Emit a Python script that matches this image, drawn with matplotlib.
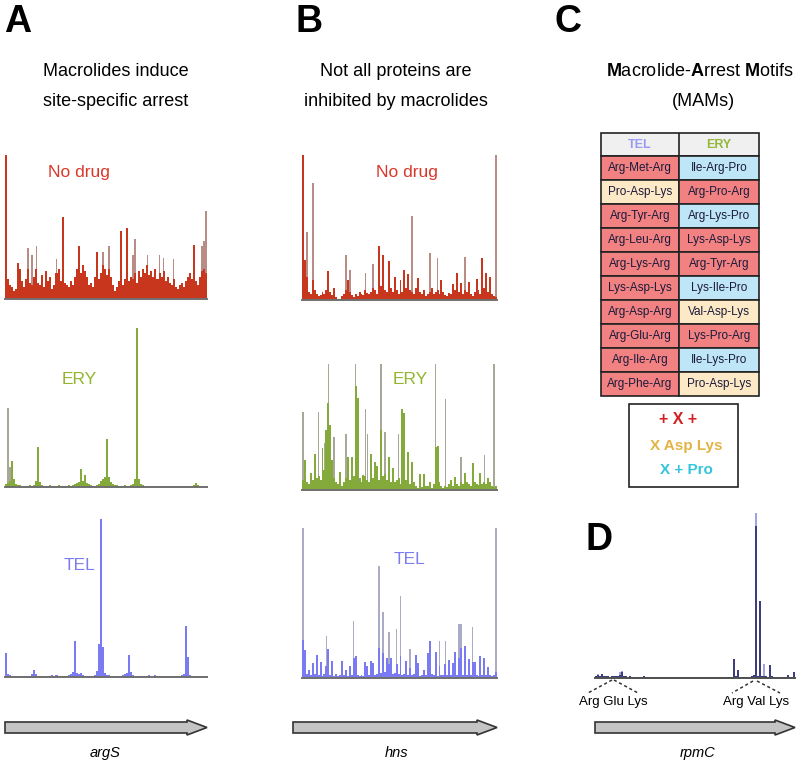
import numpy as np
import matplotlib
matplotlib.use("Agg")
import matplotlib.pyplot as plt
from matplotlib.patches import Rectangle, Polygon

plt.rcParams['font.family'] = ['Liberation Sans', 'DejaVu Sans']
plt.rcParams['mathtext.fontset'] = 'custom'
plt.rcParams['mathtext.rm'] = 'Liberation Sans'
plt.rcParams['mathtext.bf'] = 'Liberation Sans:bold'

W, H = 800, 762

# ribosome footprint density, 100 bins per gene (arbitrary read units)
a_nodrug = [144,20,14,12,8,10,36,30,18,12,
            20,30,16,14,22,30,16,14,24,12,
            28,18,22,10,14,26,30,18,82,16,
            14,12,18,14,22,30,53,26,34,28,
            22,14,16,12,22,47,20,26,34,30,
            24,30,22,14,8,12,18,68,14,20,
            71,18,22,20,26,16,28,22,30,26,
            34,24,28,22,30,20,26,22,28,18,
            22,16,14,20,12,10,14,16,12,18,
            22,26,20,54,18,14,22,28,30,26]
a_nodrug_rep_pos = [11,13,15,25,48,51,63,64,70,76,78,83,97,98,99]
a_nodrug_rep = [51,44,53,40,47,53,44,60,44,44,41,40,53,58,88]

a_ery = [3,4,6,26,8,3,2,2,1,1,
         1,1,2,1,2,6,40,5,2,1,
         1,1,2,1,1,1,2,1,1,1,
         1,2,1,2,3,4,5,18,6,12,
         4,3,2,1,1,2,3,6,8,10,
         48,10,5,3,2,2,1,1,1,2,
         1,1,2,3,8,159,8,3,2,1,
         1,1,1,1,1,1,1,1,1,1,
         1,1,1,1,1,1,1,1,1,1,
         1,1,1,2,4,2,1,1,1,1]
a_ery_rep_pos = [1, 2]
a_ery_rep = [79, 20]

a_tel = [24,3,2,1,1,1,1,1,1,1,
         1,1,1,3,7,3,1,1,1,1,
         1,1,1,2,1,2,1,1,1,1,
         1,2,3,5,36,4,3,4,2,1,
         1,1,1,1,2,6,33,158,30,4,
         2,2,1,1,1,1,1,1,2,3,
         4,22,5,2,1,1,1,1,1,1,
         1,2,1,1,2,1,1,1,1,1,
         1,1,1,1,1,1,1,2,3,51,
         20,2,1,1,1,1,1,1,1,1]

b_nodrug = [145,40,23,8,6,20,10,6,4,5,
            8,6,10,29,8,5,12,3,0,1,
            4,6,10,20,8,5,3,6,4,8,
            6,5,10,7,6,8,12,10,6,54,
            14,45,10,8,39,12,8,23,10,6,
            20,8,30,12,26,10,8,6,12,22,
            8,6,10,4,6,8,12,6,8,10,
            6,20,8,5,4,7,6,16,10,27,
            8,17,6,10,8,18,6,4,8,21,
            10,6,42,12,27,8,23,6,4,3]
b_nodrug_rep_pos = [2,5,22,24,32,36,56,65,69,83,99]
b_nodrug_rep = [68,117,45,30,27,36,84,47,42,43,145]

b_ery = [10,30,8,6,17,10,36,12,14,10,
         42,20,60,87,65,30,12,8,6,18,
         4,8,12,33,10,33,14,104,92,12,
         8,15,14,10,8,36,12,28,24,10,
         60,14,16,10,33,8,22,8,10,12,
         6,81,77,10,38,6,28,8,4,2,
         16,3,16,4,4,8,2,6,43,44,
         8,4,2,4,3,6,10,4,13,6,
         4,8,6,17,8,6,4,27,8,6,
         5,17,6,8,6,12,8,4,3,4]
b_ery_rep_pos = [0,8,11,13,16,22,27,32,33,40,42,49,68,73,81,93,98]
b_ery_rep = [78,78,47,126,53,56,126,81,56,126,58,56,126,91,33,35,126]

b_tel = [38,28,4,8,3,15,4,23,3,16,
         2,4,12,29,3,17,2,4,2,3,
         17,3,8,2,12,3,20,22,3,2,
         3,2,16,12,3,17,15,3,4,30,
         5,25,6,20,14,20,4,5,14,4,
         22,3,4,17,3,10,3,4,23,15,
         2,3,8,3,25,37,4,3,26,2,
         12,3,3,14,3,18,3,15,26,3,
         20,30,3,32,3,19,3,16,16,3,
         2,22,3,20,3,11,3,2,3,6]
b_tel_rep_pos = [0,12,26,39,41,44,48,50,55,64,65,70,73,80,81,87,99]
b_tel_rep = [150,42,57,112,66,46,49,82,29,25,37,37,37,54,54,51,150]

d_tel = [2,3,2,4,2,2,2,1,2,2,
         2,2,3,6,2,2,1,2,1,1,
         1,1,1,1,2,1,1,1,1,1,
         1,1,1,1,1,1,1,1,1,1,
         1,1,1,1,1,1,1,1,1,1,
         1,1,1,1,1,1,1,1,1,1,
         1,1,1,1,1,1,1,1,1,19,
         2,8,1,1,1,1,1,1,2,3,
         152,2,77,2,2,2,1,13,2,1,
         1,1,1,1,1,1,3,1,1,6]
d_rep_pos = [1,3,12,13,80,84,99]
d_rep = [4,3,6,7,165,14,6]

tel_motifs = ["Arg-Met-Arg", "Pro-Asp-Lys", "Arg-Tyr-Arg", "Arg-Leu-Arg", "Arg-Lys-Arg",
              "Lys-Asp-Lys", "Arg-Asp-Arg", "Arg-Glu-Arg", "Arg-Ile-Arg", "Arg-Phe-Arg"]
tel_class = ["r", "y", "r", "r", "r", "r", "r", "r", "r", "r"]
ery_motifs = ["Ile-Arg-Pro", "Arg-Pro-Arg", "Arg-Lys-Pro", "Lys-Asp-Lys", "Arg-Tyr-Arg",
              "Lys-Ile-Pro", "Val-Asp-Lys", "Lys-Pro-Arg", "Ile-Lys-Pro", "Pro-Asp-Lys"]
ery_class = ["b", "r", "b", "r", "r", "b", "y", "r", "b", "y"]
cell_col = {"r": "#f28282", "y": "#fde9c6", "b": "#bfe6f6"}

RED, RED_REP = "#c8361e", "#b98c86"
GRN, GRN_REP = "#84aa3c", "#a9a797"
BLU, BLU_REP = "#7a7af2", "#ababc6"

fig = plt.figure(figsize=(8, 7.62), dpi=100)


def px_axes(l, t, r, b):
    return fig.add_axes([l / W, 1 - b / H, (r - l) / W, (b - t) / H])


def track(box, vals, color, rep_pos=None, rep=None, rep_color=None, base="#707070"):
    ax = px_axes(*box)
    n = len(vals)
    if rep_pos is not None:
        ax.bar(rep_pos, rep, width=0.8, color=rep_color, linewidth=0, zorder=1)
    ax.bar(np.arange(n), vals, width=1.0, color=color, linewidth=0, zorder=2)
    ax.axhline(0, color=base, lw=1.4, zorder=3, clip_on=False)
    ax.set_xlim(-0.5, n - 0.5)
    ax.set_ylim(0, box[3] - box[1])
    ax.axis('off')
    return ax


track((5, 150, 207, 299), a_nodrug, RED, a_nodrug_rep_pos, a_nodrug_rep, RED_REP)
track((5, 325, 207, 487), a_ery, GRN, a_ery_rep_pos, a_ery_rep, GRN_REP)
track((5, 515, 207, 677), a_tel, BLU)
track((302, 150, 497, 300), b_nodrug, RED, b_nodrug_rep_pos, b_nodrug_rep, RED_REP)
track((302, 360, 497, 490), b_ery, GRN, b_ery_rep_pos, b_ery_rep, GRN_REP)
track((302, 525, 497, 678), b_tel, BLU, b_tel_rep_pos, b_tel_rep, BLU_REP)
track((595, 510, 795, 678), d_tel, "#3d3d80", d_rep_pos, d_rep, "#a2a2e6", base="#505050")

# overlay for text, table, arrows
ov = fig.add_axes([0, 0, 1, 1], zorder=-1)
ov.set_xlim(0, W)
ov.set_ylim(H, 0)
ov.axis('off')

for s, x, y in [("A", 4, 22), ("B", 296, 22), ("C", 555, 22), ("D", 585, 540)]:
    ov.text(x, y, s, fontsize=27, fontweight='bold', ha='left', va='center')

ov.text(116, 72, "Macrolides induce", fontsize=13, ha='center', va='center')
ov.text(116, 101, "site-specific arrest", fontsize=13, ha='center', va='center')
ov.text(396, 72, "Not all proteins are", fontsize=13, ha='center', va='center')
ov.text(396, 101, "inhibited by macrolides", fontsize=13, ha='center', va='center')
ov.text(700, 72, r"$\mathbf{M}$acrolide-$\mathbf{A}$rrest $\mathbf{M}$otifs", fontsize=13,
        ha='center', va='center')
ov.text(703, 101, "(MAMs)", fontsize=13, ha='center', va='center')

for x, y, s, c in [(79, 172, "No drug", "#d8382a"), (79, 380, "ERY", "#94b52e"),
                   (80, 565, "TEL", "#7c7cf0"), (407, 172, "No drug", "#d8382a"),
                   (410, 379, "ERY", "#94b52e"), (410, 560, "TEL", "#7c7cf0")]:
    ov.text(x, y, s, fontsize=12.5, color=c, ha='center', va='center')

# MAM table
tx0, tx1, tx2 = 601, 679, 759
ty0, rh = 132.5, 24
ov.add_patch(Rectangle((tx0, ty0), tx2 - tx0, 23.5, facecolor="#f0f0f0", edgecolor="#222", lw=1.2))
ov.add_patch(Rectangle((tx1, ty0), 0, 23.5, edgecolor="#222", lw=1.2))
ov.text((tx0 + tx1) / 2, ty0 + 12, "TEL", fontsize=9, fontweight='bold', color="#9a9af5",
        ha='center', va='center')
ov.text((tx1 + tx2) / 2, ty0 + 12, "ERY", fontsize=9, fontweight='bold', color="#94b83a",
        ha='center', va='center')
for i in range(len(tel_motifs)):
    y = ty0 + 23.5 + i * rh
    for (xa, xb), m, c in [((tx0, tx1), tel_motifs[i], tel_class[i]),
                           ((tx1, tx2), ery_motifs[i], ery_class[i])]:
        ov.add_patch(Rectangle((xa, y), xb - xa, rh, facecolor=cell_col[c], edgecolor="#222", lw=1.2))
        ov.text((xa + xb) / 2, y + rh / 2 + 0.5, m, fontsize=8.5, color="#1a1a3a",
                ha='center', va='center')

ov.add_patch(Rectangle((629, 404), 109, 83, facecolor='white', edgecolor="#222", lw=1.2))
ov.text(678, 420, "+ X +", fontsize=11.5, fontweight='bold', color="#d42020", ha='center', va='center')
ov.text(686, 446, "X Asp Lys", fontsize=11, fontweight='bold', color="#e2b443", ha='center', va='center')
ov.text(686, 470, "X + Pro", fontsize=11, fontweight='bold', color="#33c5dc", ha='center', va='center')

# panel D annotations
for xs, ys in [([612, 588], [680, 693]), ([614, 638], [680, 693]),
               ([753, 732], [681, 693]), ([757, 780], [681, 693])]:
    ov.plot(xs, ys, color="#333", lw=1.1, ls=(0, (2, 1.8)))
ov.text(613, 702, "Arg Glu Lys", fontsize=9.5, ha='center', va='center')
ov.text(756, 702, "Arg Val Lys", fontsize=9.5, ha='center', va='center')

# gene arrows
for x0, x1, name, xn in [(5, 207, "argS", 105), (293, 497, "hns", 397), (595, 795, "rpmC", 698)]:
    hx = x1 - 20
    pts = [(x0, 722), (hx, 722), (hx, 720), (x1, 727.5), (hx, 735), (hx, 733), (x0, 733)]
    ov.add_patch(Polygon(pts, closed=True, facecolor="#c4c4c4", edgecolor="#333", lw=1.2))
    ov.text(xn, 753, name, fontsize=10.5, style='italic', ha='center', va='center')

fig.savefig("out.png", dpi=100)
